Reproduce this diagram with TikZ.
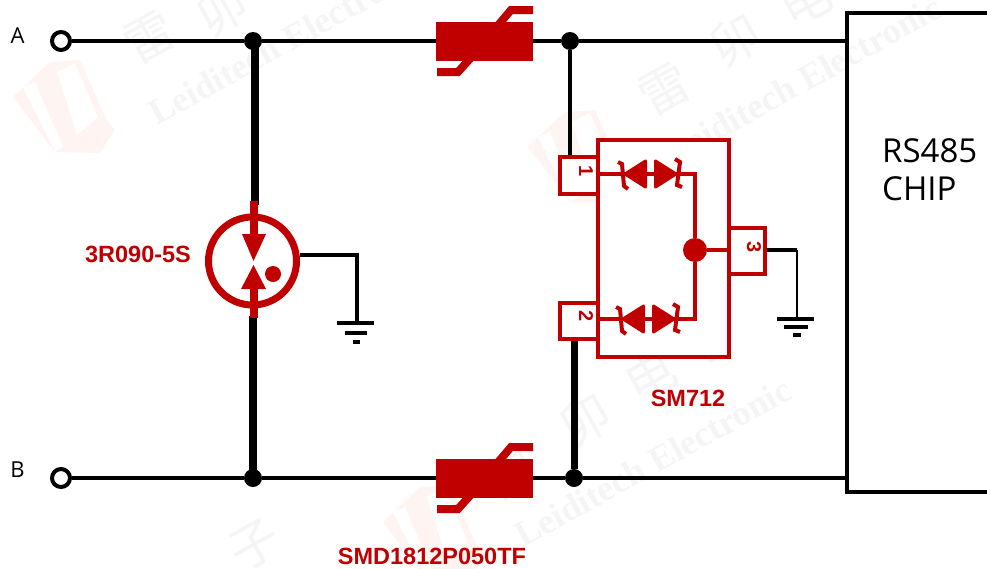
\documentclass[tikz,border=0pt]{standalone}
\usepackage{fontspec}
\setmainfont{Liberation Sans}
\newfontfamily\chipfont{Open Sans}
\newfontfamily\markfont{Liberation Serif}
\newfontfamily\cjkmark{Noto Sans CJK SC}
\definecolor{tvsred}{RGB}{192,0,0}
\definecolor{markgray}{RGB}{245,245,245}
\definecolor{markred}{RGB}{254,244,241}
\tikzset{
  wire/.style={draw=black,line width=4pt},
  busbar/.style={draw=black,line width=8pt},
  redline/.style={draw=tvsred,line width=4pt},
  diodehead/.style={fill=tvsred,draw=tvsred,line width=3pt,line join=round},
  diodebar/.style={draw=tvsred,line width=4pt},
  ptcslash/.style={draw=tvsred,line width=8pt},
  joint/.style={circle,fill=black,inner sep=0pt,minimum size=18pt},
  terminal/.style={circle,draw=black,fill=white,line width=4pt,inner sep=0pt,minimum size=18pt},
  ptcbody/.style={rectangle,fill=tvsred,inner sep=0pt,minimum width=97pt,minimum height=39pt},
  pinbox/.style={rectangle,draw=tvsred,fill=white,line width=4pt,inner sep=0pt},
  pinnum/.style={text=tvsred,font=\bfseries\fontsize{20}{20}\selectfont,rotate=-90,inner sep=0pt},
  partname/.style={text=tvsred,font=\bfseries\fontsize{23.5}{23.5}\selectfont,inner sep=0pt},
  portname/.style={font=\chipfont\fontsize{22}{22}\selectfont,inner sep=0pt},
  markword/.style={text=markgray,font=\markfont\bfseries\fontsize{36}{36}\selectfont,rotate=29,inner sep=0pt},
  markchar/.style={text=markgray,font=\cjkmark\fontsize{50}{50}\selectfont,rotate=29,inner sep=0pt},
}
\begin{document}
\begin{tikzpicture}[x=1pt,y=-1pt]
\useasboundingbox (0,0) rectangle (987,568);
% watermark
\begin{scope}
\fill[markred] (13,97) -- (50,62) -- (80,60) -- (105,117) -- (115,130) -- (100,153) -- (55,152) -- cycle;
\fill[white] (23,87) -- (35,82) -- (63,147) -- (55,152) -- cycle;
\fill[white] (57,72) -- (75,63) -- (98,117) -- (77,135) -- cycle;
\end{scope}
\begin{scope}[shift={(515,50)}]
\fill[markred] (13,97) -- (50,62) -- (80,60) -- (105,117) -- (115,130) -- (100,153) -- (55,152) -- cycle;
\fill[white] (23,87) -- (35,82) -- (63,147) -- (55,152) -- cycle;
\fill[white] (57,72) -- (75,63) -- (98,117) -- (77,135) -- cycle;
\end{scope}
\begin{scope}[shift={(370,425)}]
\fill[markred] (13,97) -- (50,62) -- (80,60) -- (105,117) -- (115,130) -- (100,153) -- (55,152) -- cycle;
\fill[white] (23,87) -- (35,82) -- (63,147) -- (55,152) -- cycle;
\fill[white] (57,72) -- (75,63) -- (98,117) -- (77,135) -- cycle;
\end{scope}
\node[markword] (markA) at (287,40) {Leiditech Electronic};
\node[markword] (markB) at (803,80) {Leiditech Electronic};
\node[markword] (markC) at (653,462) {Leiditech Electronic};
\node[markchar] (leiA) at (150,38) {雷};
\node[markchar] (maoA) at (222,10) {卯};
\node[markchar] (leiB) at (665,90) {雷};
\node[markchar] (maoB) at (735,40) {卯};
\node[markchar] (dianB) at (805,0) {电};
\node[markchar] (leiC) at (510,475) {雷};
\node[markchar] (maoC) at (585,420) {卯};
\node[markchar] (dianC) at (650,375) {电};
\node[markchar] (ziC) at (710,340) {子};
\node[markchar] (ziD) at (255,545) {子};
% terminals and joints
\node[terminal] (termA) at (61,41) {};
\node[terminal] (termB) at (61,478) {};
\node[portname] (nameA) at (17.5,35.5) {A};
\node[portname] (nameB) at (17.5,470) {B};
\node[joint] (jointA) at (253,41) {};
\node[joint] (jointB) at (253,478) {};
\node[joint] (jointC) at (570,41) {};
\node[joint] (jointD) at (574,478) {};
% chip
\coordinate (chipA) at (847,41);
\coordinate (chipB) at (847,478);
\draw[wire] (987,13) -- (847,13) -- (847,492) -- (987,492);
\node[anchor=north west,align=left,font=\chipfont\fontsize{33}{38}\selectfont,inner sep=0pt] (chiptext) at (882,138) {RS485\\CHIP};
% fuses
\node[ptcbody] (ptcA) at (484.5,41) {};
\draw[ptcslash] (437,72) -- (458,72) -- (476,52);
\draw[ptcslash] (533,10) -- (511,10) -- (494,30);
\node[ptcbody] (ptcB) at (484.5,478) {};
\draw[ptcslash] (437,509) -- (458,509) -- (476,489);
\draw[ptcslash] (533,447) -- (511,447) -- (494,467);
% bus wires
\draw[wire] (termA) -- (jointA);
\draw[wire] (jointA) -- (ptcA);
\draw[wire] (ptcA) -- (jointC);
\draw[wire] (jointC) -- (chipA);
\draw[wire] (termB) -- (jointB);
\draw[wire] (jointB) -- (ptcB);
\draw[wire] (ptcB) -- (jointD);
\draw[wire] (jointD) -- (chipB);
% gas tube
\coordinate (gdttop) at (255,205);
\coordinate (gdtbot) at (253,316);
\draw[busbar] (gdttop |- jointA) -- (gdttop);
\draw[busbar] (gdtbot |- jointB) -- (gdtbot);
\node[circle,draw=tvsred,fill=white,line width=7pt,inner sep=0pt,minimum size=88pt] (gdt) at (252.5,261) {};
\draw[tvsred,line width=8pt] (254,201) -- (254,236);
\draw[tvsred,line width=8pt] (253.5,287) -- (253.5,318);
\fill[tvsred] (242,234) -- (266,234) -- (253.5,261) -- cycle;
\fill[tvsred] (241,289) -- (266,289) -- (253.5,265) -- cycle;
\node[circle,fill=tvsred,inner sep=0pt,minimum size=16pt] (gdtdot) at (273,274) {};
\coordinate (gndA) at (357,323);
\draw[wire] (gdt.east |- 0,255) -- (357,255) -- (gndA);
\draw[wire] (337,323) -- (374,323);
\draw[wire] (345,333) -- (367,333);
\draw[wire] (353,342) -- (360,342);
\node[partname] (gdtname) at (138,254.5) {3R090-5S};
% protection array
\draw[line width=4.5pt] (jointC) -- (570,157);
\draw[line width=7pt] (jointD) -- (574,339);
\node[rectangle,draw=tvsred,fill=white,line width=4.5pt,inner sep=0pt,minimum width=131pt,minimum height=217pt] (arraybox) at (663.5,248.5) {};
\node[pinbox,minimum width=38pt,minimum height=37pt] (pinA) at (579,175.5) {};
\node[pinbox,minimum width=38pt,minimum height=36pt] (pinB) at (579,321) {};
\node[pinbox,minimum width=36pt,minimum height=46pt] (pinC) at (747,251) {};
\node[pinnum] (numA) at (586,171) {1};
\node[pinnum] (numB) at (586,316) {2};
\node[pinnum] (numC) at (754,247) {3};
\node[circle,fill=tvsred,inner sep=0pt,minimum size=24pt] (jointE) at (695,250) {};
\draw[redline] (599,174) -- (695,174) -- (jointE);
\draw[redline] (599,319) -- (695,319) -- (jointE);
\draw[redline] (jointE) -- (pinC.west |- jointE);
\begin{scope}[shift={(0,174)}]
\draw[diodehead] (625,0) -- (645.5,-13) -- (645.5,13) -- cycle;
\draw[diodehead] (676,0) -- (655.5,-13) -- (655.5,13) -- cycle;
\draw[diodebar] (618,-12) -- (622,-10) -- (624,12) -- (628,15);
\draw[diodebar] (675,-15) -- (680,-12) -- (677,11) -- (682,13);
\end{scope}
\begin{scope}[shift={(-2,319)}]
\draw[diodehead] (625,0) -- (645.5,-13) -- (645.5,13) -- cycle;
\draw[diodehead] (676,0) -- (655.5,-13) -- (655.5,13) -- cycle;
\draw[diodebar] (618,-12) -- (622,-10) -- (624,12) -- (628,15);
\draw[diodebar] (675,-15) -- (680,-12) -- (677,11) -- (682,13);
\end{scope}
\node[partname] (arrayname) at (688,398) {SM712};
\node[partname] (ptcname) at (432,556) {SMD1812P050TF};
\coordinate (gndB) at (797,319);
\draw[line width=3.5pt] (pinC.east |- 0,250) -- (797,250);
\draw[line width=1.5pt] (797,250) -- (gndB);
\draw[wire] (777,319) -- (814,319);
\draw[wire] (784,327) -- (808,327);
\draw[wire] (793,335) -- (801,335);
\end{tikzpicture}
\end{document}
